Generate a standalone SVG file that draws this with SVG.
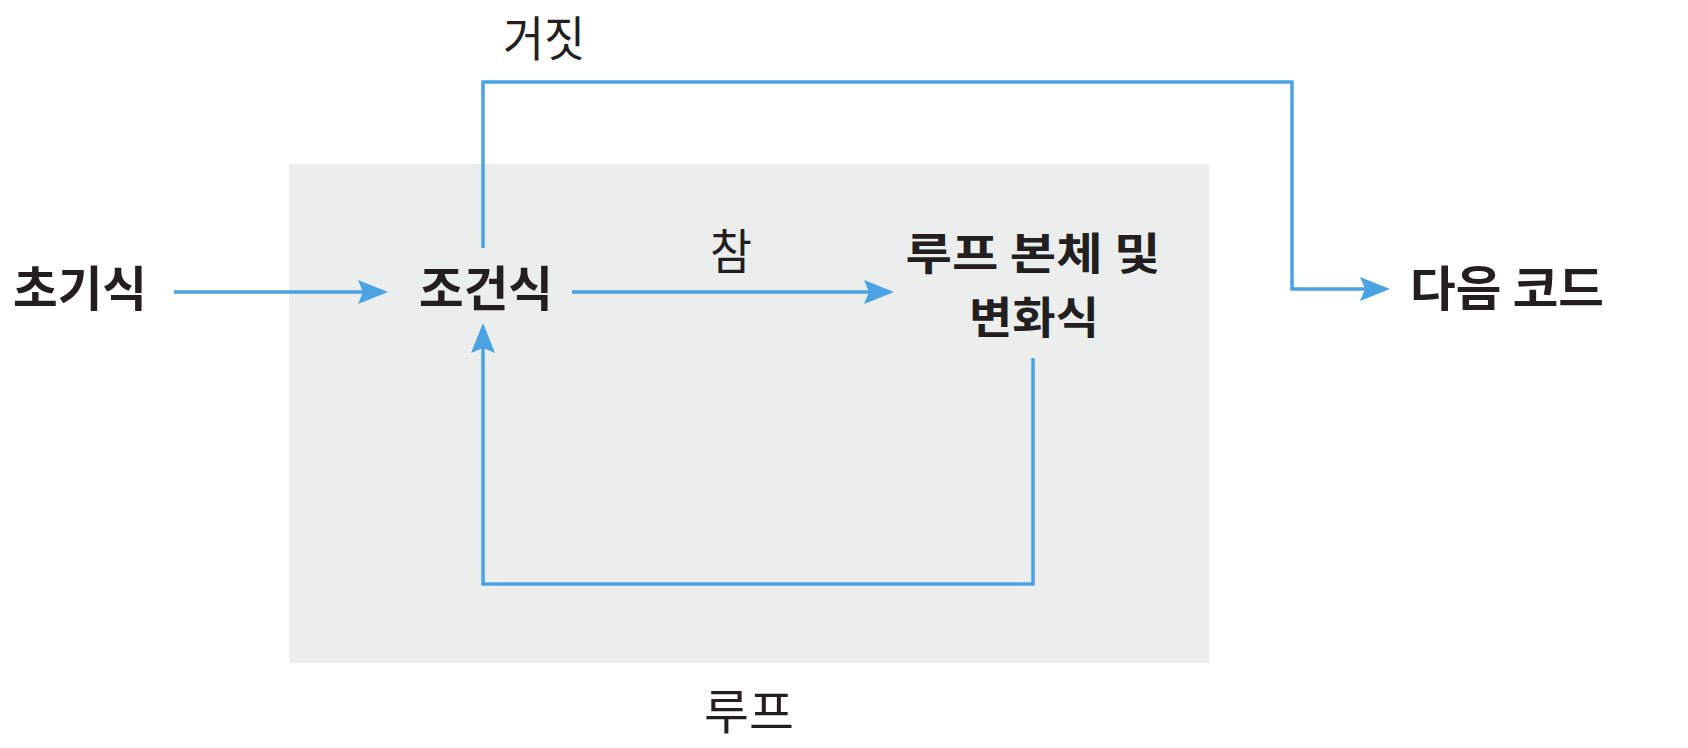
<svg xmlns="http://www.w3.org/2000/svg" width="1688" height="748" viewBox="0 0 1688 748">
<style>
.t{font-family:"Noto Sans CJK KR","Noto Sans",sans-serif;fill:#231f20;text-anchor:middle;font-size:48px}
.b{font-weight:700}
.r{font-weight:400}
.s{font-size:44px}
.c{fill:none;stroke:#4ba3e3;stroke-width:3.5}
</style>
<defs>
<marker id="ah" markerUnits="userSpaceOnUse" markerWidth="32" markerHeight="28" refX="22" refY="13" orient="auto" viewBox="0 0 32 28">
<path d="M0,1 L30,13 L0,25 L5,13 Z" fill="#4ba3e3"/>
</marker>
</defs>
<rect id="loop-area" x="289" y="164" width="920" height="499" fill="#eceeee"/>
<g id="connectors">
<path class="c" d="M174,292 L380,292" marker-end="url(#ah)"/>
<path class="c" d="M572,292 L886,292" marker-end="url(#ah)"/>
<path class="c" d="M483,248 L483,82 L1292,82 L1292,289 L1382,289" marker-end="url(#ah)"/>
<path class="c" d="M1033,358 L1033,584 L483,584 L483,331" marker-end="url(#ah)"/>
</g>
<g id="node-init"><text class="t b" x="80" y="306" textLength="134" lengthAdjust="spacingAndGlyphs">초기식</text></g>
<g id="node-cond"><text class="t b" x="486" y="306" textLength="134" lengthAdjust="spacingAndGlyphs">조건식</text></g>
<g id="node-body"><text class="t b s" x="1033" y="270" textLength="255" lengthAdjust="spacingAndGlyphs">루프 본체 및</text><text class="t b s" x="1034" y="334" textLength="130" lengthAdjust="spacingAndGlyphs">변화식</text></g>
<g id="node-next"><text class="t b" x="1507" y="306" textLength="194" lengthAdjust="spacingAndGlyphs">다음 코드</text></g>
<g id="label-false"><text class="t r" x="544" y="56" textLength="82" lengthAdjust="spacingAndGlyphs">거짓</text></g>
<g id="label-true"><text class="t r" x="731" y="269" textLength="42" lengthAdjust="spacingAndGlyphs">참</text></g>
<g id="label-loop"><text class="t r" x="749" y="729" textLength="90" lengthAdjust="spacingAndGlyphs">루프</text></g>
</svg>
